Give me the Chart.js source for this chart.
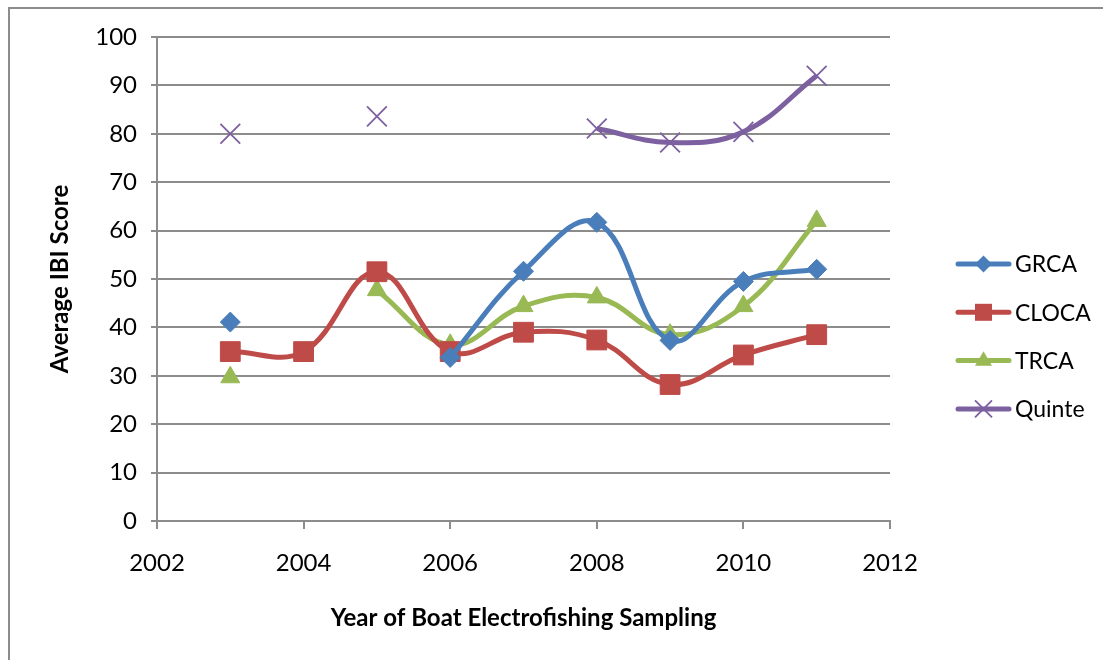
<!DOCTYPE html>
<html>
<head>
<meta charset="utf-8">
<script src="https://cdn.jsdelivr.net/npm/chart.js@4/dist/chart.umd.min.js"></script>
<style>
  body { margin: 0; background: #fff; }
  #wrap { position: relative; width: 1103px; height: 660px; }
  #frame { position: absolute; left: 8px; top: 7px; width: 1200px; height: 800px;
           border-top: 2px solid #8c8c8c; border-left: 2px solid #8c8c8c; }
  canvas { position: absolute; left: 0; top: 0; }
</style>
</head>
<body>
<div id="wrap">
  <div id="frame"></div>
  <canvas id="mycanvas" width="1103" height="660"></canvas>
</div>
<script>
var years = [2003, 2004, 2005, 2006, 2007, 2008, 2009, 2010, 2011];
var grca  = [41.1, null, null, 33.8, 51.6, 61.7, 37.3, 49.5, 52.0];
var cloca = [35.0, 35.0, 51.5, 35.0, 39.0, 37.4, 28.2, 34.3, 38.5];
var trca  = [29.7, null, 47.7, 36.4, 44.4, 46.2, 38.5, 44.4, 62.0];
var quinte = [80.0, null, 83.6, null, null, 81.1, 78.2, 80.4, 92.0];
var seriesNames = ['GRCA', 'CLOCA', 'TRCA', 'Quinte'];
var seriesColors = ['#4a7ebb', '#be4b48', '#98b954', '#7d60a0'];
var markers = ['rectRot', 'rect', 'triangle', 'crossRot'];
var yTicks = [0, 10, 20, 30, 40, 50, 60, 70, 80, 90, 100];
var xTicks = [2002, 2004, 2006, 2008, 2010, 2012];

var FONT = 'Lato';

function pts(vals) {
	var out = [];
	for (var i in years) {
		out.push({x: years[i], y: vals[i]});
	}
	return out;
}

var allVals = [grca, cloca, trca, quinte];
var sizes = [10, 14, 11, 14];
var datasets = [];
for (var k = 0; k < 4; k++) {
	datasets.push({
		label: seriesNames[k],
		data: pts(allVals[k]),
		borderColor: seriesColors[k],
		backgroundColor: seriesColors[k],
		borderWidth: 5,
		tension: 0.4,
		spanGaps: false,
		pointStyle: markers[k],
		pointRadius: sizes[k],
		pointBorderWidth: k == 3 ? 1.8 : 1,
		pointBorderColor: seriesColors[k],
		pointBackgroundColor: seriesColors[k]
	});
}

// legend drawn by hand: line with marker in the middle
function drawMarker(ctx, style, x, y, r, color) {
	ctx.save();
	ctx.fillStyle = color;
	ctx.strokeStyle = color;
	ctx.beginPath();
	if (style == 'rectRot') {
		ctx.moveTo(x, y - r); ctx.lineTo(x + r, y); ctx.lineTo(x, y + r); ctx.lineTo(x - r, y);
		ctx.closePath(); ctx.fill();
	} else if (style == 'rect') {
		ctx.rect(x - r, y - r, 2 * r, 2 * r); ctx.fill();
	} else if (style == 'triangle') {
		ctx.moveTo(x, y - r * 1.1); ctx.lineTo(x + r, y + r * 0.6); ctx.lineTo(x - r, y + r * 0.6);
		ctx.closePath(); ctx.fill();
	} else {
		ctx.lineWidth = 1.8;
		ctx.moveTo(x - r, y - r); ctx.lineTo(x + r, y + r);
		ctx.moveTo(x + r, y - r); ctx.lineTo(x - r, y + r);
		ctx.stroke();
	}
	ctx.restore();
}

var legendPlugin = {
	id: 'sideLegend',
	afterDraw: function(chart) {
		var ctx = chart.ctx;
		var top = 264, gap = 48.3;
		for (var k = 0; k < 4; k++) {
			var y = top + k * gap;
			ctx.save();
			ctx.strokeStyle = seriesColors[k];
			ctx.lineWidth = 5;
			ctx.lineCap = 'round';
			ctx.beginPath();
			ctx.moveTo(958, y); ctx.lineTo(1009, y);
			ctx.stroke();
			ctx.restore();
			drawMarker(ctx, markers[k], 983.5, y, 8.5, seriesColors[k]);
			ctx.save();
			ctx.fillStyle = '#000';
			ctx.font = '23px ' + FONT;
			ctx.textBaseline = 'middle';
			ctx.fillText(seriesNames[k], 1015, y + 1);
			ctx.restore();
		}
	}
};

var ctx = document.getElementById('mycanvas');
var lineGraph = new Chart(ctx, {
	type: 'line',
	data: { datasets: datasets },
	plugins: [legendPlugin],
	options: {
		responsive: false,
		animation: false,
		layout: { padding: { left: 0, top: 37, right: 213, bottom: 27 } },
		plugins: {
			legend: { display: false },
			tooltip: { enabled: false }
		},
		scales: {
			x: {
				type: 'linear',
				min: 2002,
				max: 2012,
				afterBuildTicks: function(scale) {
					scale.ticks = xTicks.map(function(v) { return {value: v}; });
				},
				afterFit: function(scale) { scale.height = 112; },
				ticks: {
					color: '#000',
					font: { family: FONT, size: 24 },
					padding: 20,
					maxRotation: 0,
					callback: function(v) { return String(v); }
				},
				grid: {
					drawOnChartArea: false,
					drawTicks: true,
					tickLength: 8,
					color: '#8c8c8c',
					lineWidth: 2
				},
				border: { color: '#8c8c8c', width: 2 },
				title: {
					display: true,
					text: 'Year of Boat Electrofishing Sampling',
					color: '#000',
					font: { family: FONT, size: 24, weight: 'bold' },
					padding: { top: 0, bottom: 0 }
				}
			},
			y: {
				min: 0,
				max: 100,
				afterBuildTicks: function(scale) {
					scale.ticks = yTicks.map(function(v) { return {value: v}; });
				},
				afterFit: function(scale) { scale.width = 157; },
				ticks: {
					color: '#000',
					font: { family: FONT, size: 24 },
					padding: 14
				},
				grid: {
					color: '#8c8c8c',
					lineWidth: 2,
					tickLength: 6
				},
				border: { color: '#8c8c8c', width: 2 },
				title: {
					display: true,
					text: 'Average IBI Score',
					color: '#000',
					font: { family: FONT, size: 24, weight: 'bold' },
					padding: { top: 46 }
				}
			}
		}
	}
});
</script>
</body>
</html>
